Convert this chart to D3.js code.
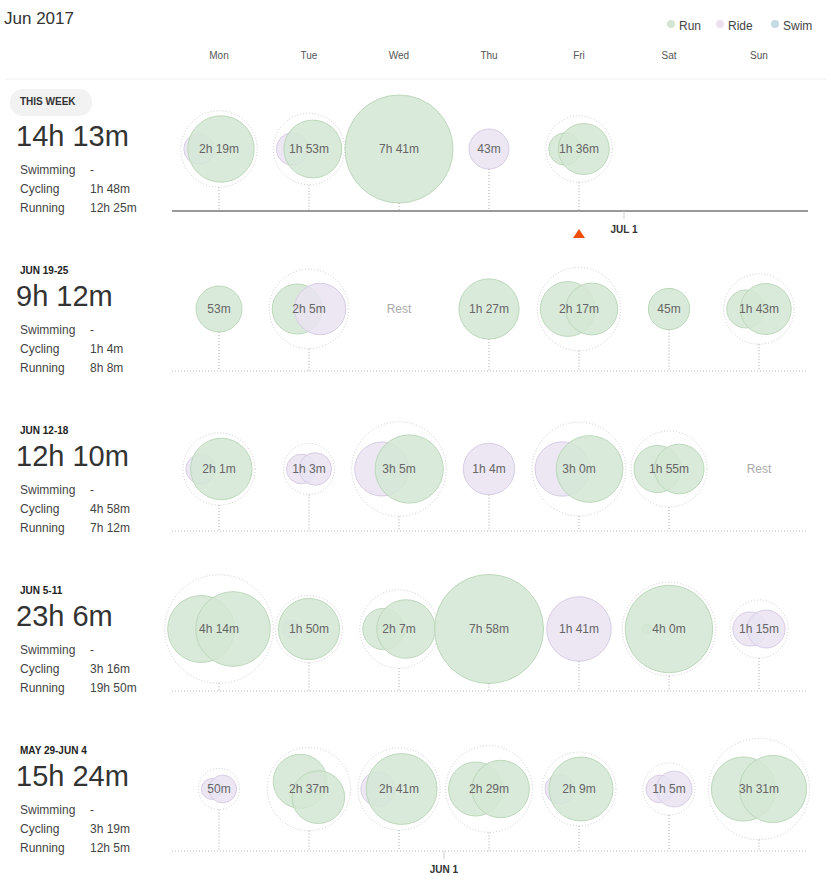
<!DOCTYPE html>
<html><head><meta charset="utf-8">
<script src="https://cdn.jsdelivr.net/npm/d3@7"></script>
<style>body{margin:0;background:#fff;font-family:Arial,"Liberation Sans",sans-serif}</style>
</head><body><svg id="chart" width="831" height="890"></svg>
<script>
const days = ["Mon","Tue","Wed","Thu","Fri","Sat","Sun"];
const weekLabels = ["THIS WEEK","JUN 19-25","JUN 12-18","JUN 5-11","MAY 29-JUN 4"];
const weekTotals = ["14h 13m","9h 12m","12h 10m","23h 6m","15h 24m"];
const swimming = ["-","-","-","-","-"];
const cycling = ["1h 48m","1h 4m","4h 58m","3h 16m","3h 19m"];
const running = ["12h 25m","8h 8m","7h 12m","19h 50m","12h 5m"];
// activities per day: [type, minutes]; empty = Rest, null = future
const week0 = [[["ride",31],["run",108]],[["ride",33],["run",80]],[["run",461]],[["ride",43]],[["run",33],["run",63]],null,null];
const week1 = [[["run",53]],[["run",61],["ride",64]],[],[["run",87]],[["run",72],["run",65]],[["run",45]],[["run",40],["run",63]]];
const week2 = [[["ride",30],["run",91]],[["ride",30],["ride",33]],[["ride",70],["run",115]],[["ride",64]],[["ride",71],["run",109]],[["run",55],["run",60]],[]];
const week3 = [[["run",110],["run",144]],[["ride",20],["run",90]],[["run",45],["run",82]],[["run",478]],[["ride",101]],[["run",15],["run",225]],[["ride",35],["ride",40]]];
const week4 = [[["ride",22],["ride",28]],[["run",70],["ride",20],["run",67]],[["ride",35],["run",126]],[["run",70],["run",79]],[["ride",30],["run",99]],[["ride",28],["ride",37]],[["run",100],["run",111]]];
const weeks = [week0, week1, week2, week3, week4];
const monthMarks = [{week:0, after:"Fri", label:"JUL 1"},{week:4, after:"Wed", label:"JUN 1"}];
const todayWeek = 0, today = "Fri";

const colors = {run:{fill:"#d4e6d3",stroke:"#bcd8bb"}, ride:{fill:"#e9e3f1",stroke:"#d8cde6"}, swim:{fill:"#c6dae6",stroke:"#b0cadb"}};
const svg = d3.select("#chart");
const x = d3.scalePoint().domain(days).range([219,759]);
const step = x.step();
const rowY = d3.scaleLinear().domain([0,1]).range([149,309]);
const r = d3.scaleLog().domain([43,461]).range([20,54]);
const fmt = m => { const h = Math.floor(m/60), mm = m%60; return h ? `${h}h ${mm}m` : `${mm}m`; };

svg.append("text").attr("x",4).attr("y",24).attr("font-size",17).attr("fill","#333").text("Jun 2017");
const legend = svg.append("g");
[["Run",672],["Ride",721],["Swim",776]].forEach(([k,lx]) => {
  legend.append("circle").attr("cx",lx-1).attr("cy",24).attr("r",4).attr("fill",colors[k.toLowerCase()].fill);
  legend.append("text").attr("x",lx+7).attr("y",30).attr("font-size",12).attr("fill","#444").text(k);
});
svg.selectAll(".day").data(days).enter().append("text")
  .attr("x",d=>x(d)).attr("y",59).attr("text-anchor","middle").attr("font-size",10).attr("fill","#555").text(d=>d);
svg.append("line").attr("x1",5).attr("x2",826).attr("y1",79).attr("y2",79).attr("stroke","#eee");

weeks.forEach((wk,i) => {
  const cy = rowY(i), base = cy + 62;
  const g = svg.append("g");
  if (i === 0) {
    g.append("rect").attr("x",10).attr("y",89).attr("width",82).attr("height",27).attr("rx",13).attr("fill","#f2f2f2");
    g.append("text").attr("x",20).attr("y",cy-44).attr("font-size",10).attr("font-weight","bold").attr("fill","#333").text(weekLabels[i]);
  } else {
    g.append("text").attr("x",20).attr("y",cy-35).attr("font-size",10).attr("font-weight","bold").attr("fill","#222").text(weekLabels[i]);
  }
  g.append("text").attr("x",16).attr("y",cy-3).attr("font-size",29).attr("fill","#333").text(weekTotals[i]);
  [["Swimming",swimming[i]],["Cycling",cycling[i]],["Running",running[i]]].forEach(([k,v],j) => {
    g.append("text").attr("x",20).attr("y",cy+25+j*19).attr("font-size",12).attr("fill","#444").text(k);
    g.append("text").attr("x",90).attr("y",cy+25+j*19).attr("font-size",12).attr("fill","#444").text(v);
  });
  if (i === 0) g.append("line").attr("x1",172).attr("x2",808).attr("y1",base).attr("y2",base).attr("stroke","#999").attr("stroke-width",2);
  else g.append("line").attr("x1",172).attr("x2",808).attr("y1",base).attr("y2",base).attr("stroke","#bbb").attr("stroke-dasharray","1,2");

  wk.forEach((acts,di) => {
    const dx = x(days[di]);
    if (acts === null) return;
    if (acts.length === 0) {
      g.append("text").attr("x",dx).attr("y",cy+4).attr("text-anchor","middle").attr("font-size",12).attr("fill","#aaa").text("Rest");
      return;
    }
    const nodes = acts.map(([t,m]) => ({t, m, r:r(m)}));
    d3.packSiblings(nodes);
    // pull siblings together so they overlap
    const mx = d3.mean(nodes,d=>d.x), my = d3.mean(nodes,d=>d.y);
    nodes.forEach(d => { d.x = mx + (d.x-mx)*0.45; d.y = my + (d.y-my)*0.45; });
    const enc = d3.packEnclose(nodes);
    const dg = g.append("g").attr("transform",`translate(${dx - enc.x},${cy - enc.y})`);
    const outer = nodes.length > 1 ? enc.r + 3 : enc.r;
    g.append("line").attr("x1",dx).attr("x2",dx).attr("y1",cy+outer).attr("y2",base)
      .attr("stroke","#aaa").attr("stroke-dasharray","1,2");
    if (nodes.length > 1) dg.append("circle").attr("cx",enc.x).attr("cy",enc.y).attr("r",outer)
      .attr("fill","none").attr("stroke","#ccc").attr("stroke-dasharray","1,2");
    dg.selectAll("circle.a").data(nodes).enter().append("circle").attr("class","a")
      .attr("cx",d=>d.x).attr("cy",d=>d.y).attr("r",d=>d.r)
      .attr("fill",d=>colors[d.t].fill).attr("fill-opacity",0.85).attr("stroke",d=>colors[d.t].stroke);
    g.append("text").attr("x",dx).attr("y",cy+4).attr("text-anchor","middle").attr("font-size",12).attr("fill","#666")
      .text(fmt(d3.sum(acts,a=>a[1])));
  });
});

monthMarks.forEach(mk => {
  const mx = x(mk.after) + step/2, base = rowY(mk.week) + 62;
  svg.append("line").attr("x1",mx).attr("x2",mx).attr("y1",base).attr("y2",base+8).attr("stroke","#ccc");
  svg.append("text").attr("x",mx).attr("y",base+22).attr("text-anchor","middle").attr("font-size",10).attr("font-weight","bold").attr("fill","#333").text(mk.label);
});
const tx = x(today), ty = rowY(todayWeek) + 80;
svg.append("path").attr("d",`M${tx-6},${ty+9}L${tx},${ty}L${tx+6},${ty+9}Z`).attr("fill","#f04e0b");
</script></body></html>
